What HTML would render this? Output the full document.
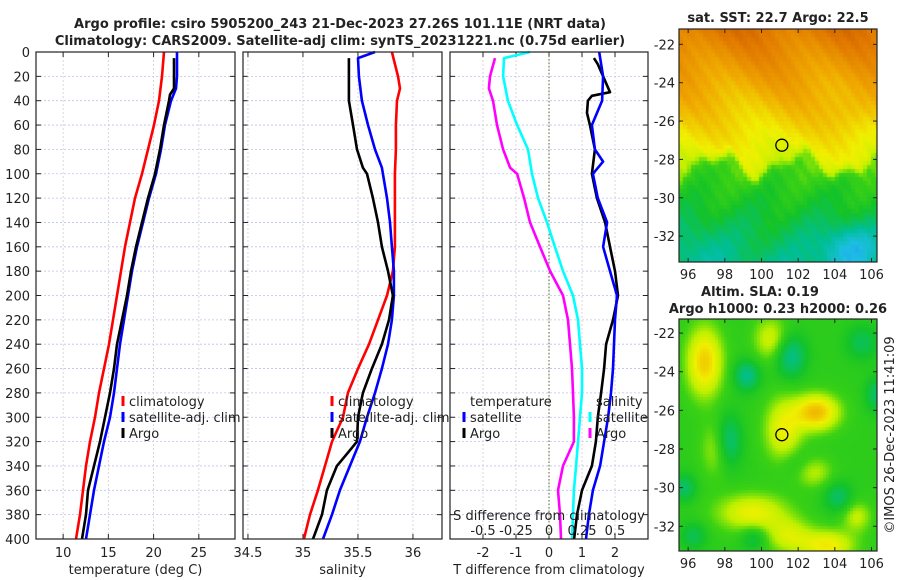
<!DOCTYPE html>
<html><head><meta charset="utf-8">
<style>
html,body{margin:0;padding:0;background:#fff;}
#root{position:relative;width:900px;height:580px;overflow:hidden;font-family:"DejaVu Sans","Liberation Sans",sans-serif;}
svg text{font-family:"DejaVu Sans","Liberation Sans",sans-serif;}
canvas{position:absolute;}
</style></head>
<body>
<div id="root">
<canvas id="sst" width="198" height="233" style="left:679px;top:29px;width:198px;height:233px"></canvas>
<canvas id="sla" width="198" height="232" style="left:679px;top:319px;width:198px;height:232px"></canvas>
<svg id="chart" width="900" height="580" style="position:absolute;left:0;top:0"></svg>
</div>
<script>
// ---------- data ----------
const depthTicks = [0,20,40,60,80,100,120,140,160,180,200,220,240,260,280,300,320,340,360,380,400];
const tempTicks = [10,15,20,25];
const salTicks = [34.5,35,35.5,36];
const salTickLabels = ["34.5","35","35.5","36"];
const tdiffTicks = [-2,-1,0,1,2];
const sdiffTicks = [-0.5,-0.25,0,0.25,0.5];
const sdiffTickLabels = ["-0.5","-0.25","0","0.25","0.5"];

const tClimDepth = [0,20,40,60,80,100,120,140,160,180,200,220,240,260,280,300,320,340,360,380,400];
const tClim = [21.15,20.93,20.6,20.05,19.38,18.72,17.95,17.39,16.84,16.4,15.95,15.51,15.07,14.52,13.96,13.52,12.97,12.53,12.2,11.86,11.42];
const tSatDepth = [0,20,30,40,60,80,100,120,140,160,180,200,220,240,260,280,300,320,340,360,380,400];
const tSat = [22.59,22.59,22.48,21.93,21.26,20.82,20.27,19.49,18.83,18.17,17.61,17.17,16.73,16.29,15.96,15.62,15.18,14.52,13.97,13.41,12.97,12.53];
const tArgoDepth = [5,20,30,35,40,60,80,100,120,140,160,180,200,220,240,260,280,300,320,340,360,380,400];
const tArgo = [22.26,22.26,22.26,21.81,21.7,21.15,20.71,20.16,19.38,18.72,18.06,17.5,17.06,16.51,15.96,15.62,15.18,14.63,14.08,13.41,12.75,12.53,12.09];

const sClimDepth = [0,20,30,40,60,80,100,120,140,160,180,200,220,240,260,280,300,320,340,360,380,400];
const sClim = [35.809,35.864,35.882,35.855,35.845,35.845,35.836,35.836,35.836,35.836,35.818,35.764,35.682,35.6,35.5,35.409,35.364,35.264,35.2,35.136,35.064,35.009];
const sSatDepth = [0,5,20,40,60,80,95,120,140,160,180,200,220,240,260,280,300,320,340,360,380,400];
const sSat = [35.655,35.5,35.509,35.536,35.591,35.655,35.718,35.764,35.791,35.809,35.827,35.827,35.809,35.773,35.718,35.655,35.582,35.518,35.427,35.336,35.264,35.182];
const sArgoDepth = [5,20,40,60,80,95,100,120,140,160,180,200,220,240,260,280,300,320,330,340,360,380,400];
const sArgo = [35.418,35.418,35.418,35.455,35.491,35.545,35.582,35.636,35.682,35.718,35.773,35.818,35.782,35.718,35.627,35.545,35.5,35.491,35.4,35.309,35.218,35.173,35.091];

const sdArgoDepth = [5,20,30,40,60,80,95,100,120,140,160,180,200,220,240,260,280,300,320,340,360,380,400];
const sdArgo = [-0.409,-0.447,-0.455,-0.424,-0.394,-0.348,-0.295,-0.242,-0.189,-0.144,-0.068,0.008,0.106,0.144,0.159,0.174,0.182,0.189,0.189,0.106,0.068,0.083,0.091];
const sdSatDepth = [0,5,20,40,60,80,100,120,140,160,180,200,220,240,260,280,300,320,340,360,380,400];
const sdSat = [-0.144,-0.341,-0.348,-0.311,-0.242,-0.159,-0.129,-0.083,-0.015,0.045,0.106,0.182,0.22,0.235,0.25,0.25,0.235,0.22,0.205,0.189,0.182,0.174];
const tdArgoDepth = [5,10,20,33,36,40,50,60,80,100,120,140,160,180,200,220,240,260,280,300,320,340,360,380,400];
const tdArgo = [1.36,1.48,1.64,1.85,1.30,1.18,1.15,1.24,1.39,1.30,1.45,1.70,1.85,2.0,2.09,1.94,1.73,1.67,1.58,1.48,1.42,1.30,1.0,0.85,0.76];
const tdSatDepth = [0,20,40,60,80,90,100,120,140,160,180,200,220,240,260,280,300,320,340,360,380,400];
const tdSat = [1.52,1.64,1.61,1.30,1.39,1.64,1.33,1.48,1.76,1.64,1.85,2.06,2.0,1.97,1.94,1.88,1.79,1.67,1.55,1.33,1.21,1.12];

const lonTicks = [96,98,100,102,104,106];
const latTicks = [-22,-24,-26,-28,-30,-32];
const argoLon = 101.11, argoLat = -27.26;

// ---------- helpers ----------
const NS="http://www.w3.org/2000/svg";
const svg=document.getElementById('chart');
function mk(tag,attrs,parent){const e=document.createElementNS(NS,tag);for(const k in attrs)e.setAttribute(k,attrs[k]);(parent||svg).appendChild(e);return e;}
function txt(x,y,s,size,anchor,weight,parent){const t=mk('text',{x:x,y:y,'font-size':size,'text-anchor':anchor||'middle','font-weight':weight||'normal',fill:'#222'},parent);t.textContent=s;return t;}
const Y0=52,Y1=539;
function yScale(d){return Y0+(d/400)*(Y1-Y0);}
function lin(d0,d1,r0,r1){return v=>r0+(v-d0)/(d1-d0)*(r1-r0);}

const xT=lin(7,29,36,235);
const xS=lin(34.455,36.264,243,442);
const xTD=lin(-3,3,450,648);
const xSD=lin(-0.75,0.75,450,648);

function panel(name,x0,x1,xticks,xfn,labels,xlabel,withYLabels){
  const g=mk('g',{});
  
  
  mk('rect',{x:x0,y:Y0,width:x1-x0,height:Y1-Y0,fill:'#fff'},g);
  depthTicks.forEach(d=>{const y=yScale(d);
    mk('line',{x1:x0,x2:x1,y1:y,y2:y,stroke:'#b8c4ea','stroke-width':0.8,'stroke-dasharray':'2,2'},g);
    mk('line',{x1:x0,x2:x0+5,y1:y,y2:y,stroke:'#222','stroke-width':1},g);
    mk('line',{x1:x1-5,x2:x1,y1:y,y2:y,stroke:'#222','stroke-width':1},g);
    if(withYLabels){const t=txt(x0-6,y+5,String(d),13,'end',null,g);}
  });
  xticks.forEach((v,i)=>{const x=xfn(v);
    mk('line',{x1:x,x2:x,y1:Y0,y2:Y1,stroke:'#d8c8d8','stroke-width':0.8,'stroke-dasharray':'2,2'},g);
    mk('line',{x1:x,x2:x,y1:Y1,y2:Y1-5,stroke:'#222','stroke-width':1},g);
    mk('line',{x1:x,x2:x,y1:Y0,y2:Y0+5,stroke:'#222','stroke-width':1},g);
    const t=txt(x,557,labels[i],13,'middle',null,g);
    
  });
  const xl=txt((x0+x1)/2,574,xlabel,13,'middle',null,g);
  
  return g;
}
function series(name,xs,ds,xfn,color,width){
  const pts=xs.map((v,i)=>xfn(v).toFixed(1)+','+yScale(ds[i]).toFixed(1)).join(' ');
  const p=mk('polyline',{points:pts,fill:'none',stroke:color,'stroke-width':width||2.6,'stroke-linejoin':'round'});
  
  
}
function frame(x0,x1){mk('rect',{x:x0,y:Y0,width:x1-x0,height:Y1-Y0,fill:'none',stroke:'#222','stroke-width':1.2});}
function legend(name,x,y,color,label){
  const g=mk('g',{});
  
  
  if(color) mk('rect',{x:x-1.5,y:y-10,width:3,height:10,fill:color},g);
  txt(x+6,y,label,13,'start',null,g);
}

// titles
const t1=txt(340,28,'Argo profile: csiro 5905200_243 21-Dec-2023 27.26S 101.11E (NRT data)',13,'middle','bold');

const t2=txt(340,45,'Climatology: CARS2009. Satellite-adj clim: synTS_20231221.nc (0.75d earlier)',13,'middle','bold');


// panel 1
panel('temperature-panel',36,235,tempTicks,xT,tempTicks.map(String),'temperature (deg C)',true);
series('temp-climatology-line',tClim,tClimDepth,xT,'#ff0000');
series('temp-satellite-line',tSat,tSatDepth,xT,'#0000ff');
series('temp-argo-line',tArgo,tArgoDepth,xT,'#000000');
frame(36,235);
legend('legend-climatology',123,406,'#ff0000','climatology');
legend('legend-satellite-adj',123,422,'#0000ff','satellite-adj. clim');
legend('legend-argo',123,438,'#000000','Argo');

// panel 2
panel('salinity-panel',243,442,salTicks,xS,salTickLabels,'salinity',false);
series('sal-climatology-line',sClim,sClimDepth,xS,'#ff0000');
series('sal-satellite-line',sSat,sSatDepth,xS,'#0000ff');
series('sal-argo-line',sArgo,sArgoDepth,xS,'#000000');
frame(243,442);
legend('legend-climatology-sal',332,406,'#ff0000','climatology');
legend('legend-satellite-adj-sal',332,422,'#0000ff','satellite-adj. clim');
legend('legend-argo-sal',332,438,'#000000','Argo');

// panel 3
panel('difference-panel',450,648,tdiffTicks,xTD,tdiffTicks.map(String),'T difference from climatology',false);
mk('line',{x1:xTD(0),x2:xTD(0),y1:Y0,y2:Y1,stroke:'#556b2f','stroke-width':1,'stroke-dasharray':'1.5,2'});
series('sal-diff-argo-line',sdArgo,sdArgoDepth,xSD,'#ff00ff');
series('sal-diff-satellite-line',sdSat,sdSatDepth,xSD,'#00ffff');
series('temp-diff-argo-line',tdArgo,tdArgoDepth,xTD,'#000000');
series('temp-diff-satellite-line',tdSat,tdSatDepth,xTD,'#0000ff');
frame(450,648);
legend('legend-temperature-heading',464,406,null,'temperature');
legend('legend-temp-satellite',464,422,'#0000ff','satellite');
legend('legend-temp-argo',464,438,'#000000','Argo');
legend('legend-salinity-heading',590,406,null,'salinity');
legend('legend-sal-satellite',590,422,'#00ffff','satellite');
legend('legend-sal-argo',590,438,'#ff00ff','Argo');
const sdt=txt(549,520,'S difference from climatology',13,'middle');

sdiffTicks.forEach((v,i)=>{const t=txt(xSD(v),535,sdiffTickLabels[i],13,'middle');
  });

// ---------- maps ----------
const cmapStops=[[0,[20,90,230]],[0.18,[30,190,230]],[0.3,[0,190,150]],[0.42,[20,195,40]],[0.5,[60,210,20]],[0.58,[190,240,0]],[0.66,[240,240,0]],[0.78,[240,170,0]],[0.9,[225,120,0]],[1,[190,80,0]]];
function cmap(v){v=Math.max(0,Math.min(1,v));for(let i=1;i<cmapStops.length;i++){if(v<=cmapStops[i][0]){const a=cmapStops[i-1],b=cmapStops[i];const f=(v-a[0])/(b[0]-a[0]);return 'rgb('+a[1].map((c,k)=>Math.round(c+(b[1][k]-c)*f)).join(',')+')';}}return 'rgb(190,80,0)';}

function drawMap(id,lonL,lonR,latT,latB,cell,fn){
  const c=document.getElementById(id),ctx=c.getContext('2d');
  for(let py=0;py<c.height;py+=cell){for(let px=0;px<c.width;px+=cell){
    const lon=lonL+(px+cell/2)/c.width*(lonR-lonL),lat=latT+(py+cell/2)/c.height*(latB-latT);
    ctx.fillStyle=cmap(fn(lon,lat));ctx.fillRect(px,py,cell,cell);}}
}
drawMap('sst',95.5,106.3,-21.2,-33.35,4,(lon,lat)=>{
  const w=0.6*Math.sin(lon*1.4)+0.35*Math.sin(lon*3.1+1);
  const s=(1+Math.tanh((lat+28.3+w)*3))/2;
  const north=0.63+(lat+28)*0.04+0.035*Math.sin(lon*1.1+lat*0.9);
  const south=0.44+(lat+30)*0.035+0.03*Math.sin(lon*1.7-lat*1.2);
  let v=s*north+(1-s)*south;
  v+=0.012*Math.sin(lon*7.3+lat*5.1);
  v-=0.16*Math.exp(-((lon-104.8)**2/3+(lat+32.6)**2/1.5));
  v-=0.05*Math.exp(-((lon-96.5)**2/2+(lat+32.5)**2/2));
  v+=0.04*Math.exp(-((lon-105)**2/2+(lat+25.5)**2/1.5));
  return v;});
function g2(lon,lat,lo,la,sx,sy){return Math.exp(-((lon-lo)**2/sx+(lat-la)**2/sy));}
drawMap('sla',95.5,106.3,-21.27,-33.28,3,(lon,lat)=>{
  let v=0.47;
  // yellow/orange highs
  v+=0.25*g2(lon,lat,96.9,-23.5,0.9,3);
  v+=0.28*g2(lon,lat,103,-26.1,1.4,0.8);
  v+=0.18*g2(lon,lat,101.2,-27,1.0,2.5);
  v+=0.2*g2(lon,lat,103.6,-33,2,0.6);
  v+=0.18*g2(lon,lat,99.5,-31.3,3.5,0.9);
  v+=0.14*g2(lon,lat,101.5,-32.5,1.5,0.8);
  v+=0.14*g2(lon,lat,100.5,-22.3,0.8,1.2);
  v+=0.12*g2(lon,lat,102.8,-29.2,1.0,0.6);
  v+=0.1*g2(lon,lat,97.5,-28,0.6,2);
  v+=0.12*g2(lon,lat,105.2,-31.5,0.6,0.6);
  // teal lows
  v-=0.16*g2(lon,lat,101.6,-23.2,0.7,1.2);
  v-=0.16*g2(lon,lat,99.2,-24.2,0.5,0.6);
  v-=0.15*g2(lon,lat,98.2,-27.6,0.5,1.8);
  v-=0.12*g2(lon,lat,95.8,-30,0.4,0.5);
  v-=0.12*g2(lon,lat,104.2,-30.5,0.6,0.6);
  v-=0.12*g2(lon,lat,106.3,-25.2,0.4,0.8);
  v-=0.1*g2(lon,lat,105.5,-22.5,0.8,0.8);
  v-=0.1*g2(lon,lat,96.3,-32.5,0.5,0.5);
  v-=0.1*g2(lon,lat,99.6,-32.6,0.5,0.4);
  v-=0.06*g2(lon,lat,102,-28.8,0.8,0.6);
  return v;});

function mapAxes(name,x0,y0,w,h,latTop,latBot){
  const g=mk('g',{});
  
  
  mk('rect',{x:x0,y:y0,width:w,height:h,fill:'none',stroke:'#222','stroke-width':1.2},g);
  const fx=lin(95.5,106.3,x0,x0+w),fy=lin(latTop,latBot,y0,y0+h);
  lonTicks.forEach(v=>{const x=fx(v);mk('line',{x1:x,x2:x,y1:y0+h,y2:y0+h-4,stroke:'#222'},g);mk('line',{x1:x,x2:x,y1:y0,y2:y0+4,stroke:'#222'},g);
    const t=txt(x,y0+h+17,String(v),13,'middle',null,g);});
  latTicks.forEach(v=>{const y=fy(v);mk('line',{x1:x0,x2:x0+4,y1:y,y2:y,stroke:'#222'},g);mk('line',{x1:x0+w-4,x2:x0+w,y1:y,y2:y,stroke:'#222'},g);
    const t=txt(x0-4,y+5,String(v),13,'end',null,g);});
  const m=mk('circle',{cx:fx(argoLon),cy:fy(argoLat),r:6,fill:'none',stroke:'#000','stroke-width':1.3},g);
  
}
mapAxes('sst-map-axes',679,29,198,233,-21.2,-33.35);
mapAxes('sla-map-axes',679,319,198,232,-21.27,-33.28);
const st=txt(778,22,'sat. SST: 22.7 Argo: 22.5',13,'middle','bold');

const s1=txt(760,296,'Altim. SLA: 0.19',13,'middle','bold');

const s2=txt(778,313,'Argo h1000: 0.23 h2000: 0.26',13,'middle','bold');

const cp=mk('text',{x:0,y:0,'font-size':13,'text-anchor':'middle',fill:'#222',transform:'translate(894,435) rotate(-90)'});
cp.textContent='©IMOS 26-Dec-2023 11:41:09';


</script>
</body></html>
